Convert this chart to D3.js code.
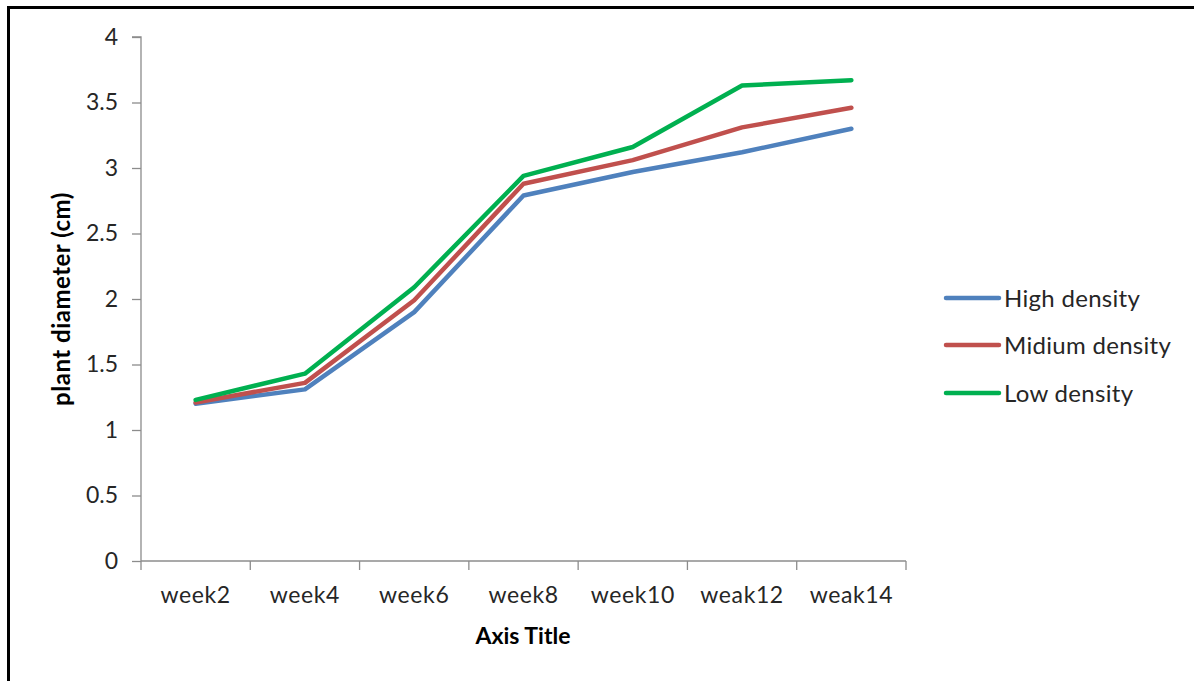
<!DOCTYPE html>
<html>
<head>
<meta charset="utf-8">
<script src="https://cdn.jsdelivr.net/npm/d3@7"></script>
<style>
html,body{margin:0;padding:0;background:#fff;overflow:hidden;}
svg{display:block;}
text{font-family:Lato,"Open Sans",sans-serif;fill:#262626;}
</style>
</head>
<body>
<svg id="chart" width="1194" height="681"></svg>
<script>
const categories = ["week2","week4","week6","week8","week10","weak12","weak14"];
const seriesNames = ["High density","Midium density","Low density"];
const highDensity = [1.20, 1.31, 1.90, 2.79, 2.97, 3.12, 3.30];
const midiumDensity = [1.21, 1.36, 1.99, 2.88, 3.06, 3.31, 3.46];
const lowDensity = [1.23, 1.43, 2.09, 2.94, 3.16, 3.63, 3.67];
const yTicks = [0, 0.5, 1, 1.5, 2, 2.5, 3, 3.5, 4];
const colors = ["#4F81BD", "#C0504D", "#00B050"];
const series = [highDensity, midiumDensity, lowDensity];

(function () {
const svg = d3.select("#chart");
// outer frame
svg.append("rect").attr("x", 8.5).attr("y", 7.5).attr("width", 1210).attr("height", 700)
  .attr("fill", "none").attr("stroke", "#000").attr("stroke-width", 3);

const pl = 141, pr = 906, pt = 37, pb = 561;
const x = d3.scaleBand().domain(categories).range([pl, pr]);
const y = d3.scaleLinear().domain([0, 4]).range([pb, pt]);

const axisColor = "#8c8c8c";
// y axis
const yAxis = svg.append("g").attr("transform", `translate(${pl},0)`)
  .call(d3.axisLeft(y).tickValues(yTicks).tickSize(9).tickPadding(14).tickFormat(d3.format("")));
yAxis.select(".domain").attr("stroke", axisColor).attr("stroke-width", 1.3).attr("d", `M-9,${pt}H0V${pb}`);
yAxis.selectAll(".tick line").attr("stroke", axisColor).attr("stroke-width", 1.3);
yAxis.selectAll(".tick text").style("font-size", "23px").style("font-family", "Lato,sans-serif").style("fill", "#262626");

// x axis
const xAxis = svg.append("g").attr("transform", `translate(0,${pb})`)
  .call(d3.axisBottom(x).tickSize(0).tickPadding(26));
xAxis.select(".domain").attr("stroke", axisColor).attr("stroke-width", 1.3).attr("d", `M${pl},0H${pr}`);
xAxis.selectAll(".tick text").style("font-size", "23px").style("font-family", "Lato,sans-serif")
  .style("fill", "#262626").style("letter-spacing", "0.6px");
// category boundary ticks
const bounds = categories.map(c => x(c)).concat([pr]);
xAxis.selectAll(".bnd").data(bounds).enter().append("line")
  .attr("x1", d => d).attr("x2", d => d).attr("y1", 0).attr("y2", 9)
  .attr("stroke", axisColor).attr("stroke-width", 1.3);

// lines
const line = d3.line().x((d, i) => x(categories[i]) + x.bandwidth() / 2).y(d => y(d));
series.forEach((s, i) => {
  svg.append("path").datum(s).attr("d", line).attr("fill", "none")
    .attr("stroke", colors[i]).attr("stroke-width", 4.5)
    .attr("stroke-linejoin", "round").attr("stroke-linecap", "round");
});

// axis titles
svg.append("text").attr("transform", `translate(70,${299}) rotate(-90)`)
  .attr("text-anchor", "middle").style("font-size", "24px").style("font-weight", "bold")
  .style("letter-spacing", "0.5px").style("fill", "#000").text("plant diameter (cm)");
svg.append("text").attr("x", 523).attr("y", 644).attr("text-anchor", "middle")
  .style("font-size", "23px").style("font-weight", "bold").style("fill", "#000").text("Axis Title");

// legend
const legendY = [298, 345, 393];
seriesNames.forEach((n, i) => {
  svg.append("line").attr("x1", 946).attr("x2", 999).attr("y1", legendY[i]).attr("y2", legendY[i])
    .attr("stroke", colors[i]).attr("stroke-width", 4.5).attr("stroke-linecap", "round");
  svg.append("text").attr("x", 1004).attr("y", legendY[i] + 9).style("font-size", "24px")
    .style("letter-spacing", "0.3px").text(n);
});
})();
</script>
</body>
</html>
